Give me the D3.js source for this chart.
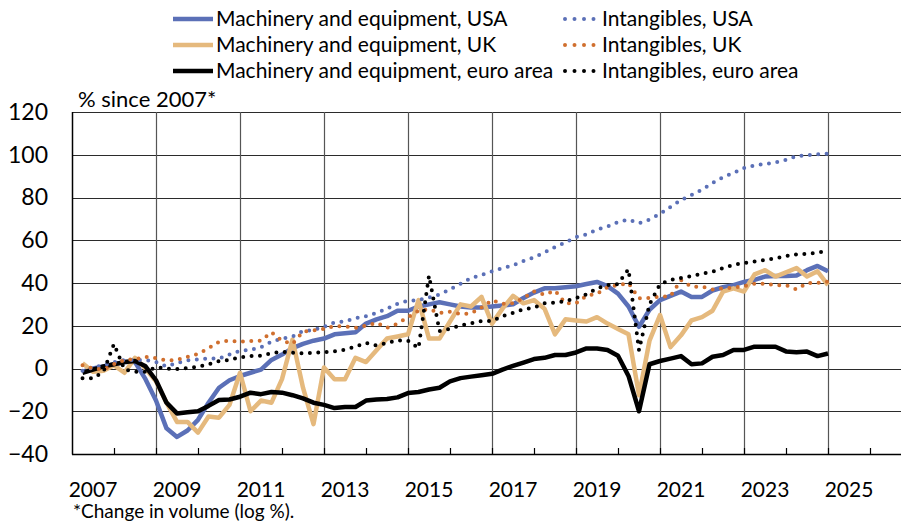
<!DOCTYPE html>
<html>
<head>
<meta charset="utf-8">
<script src="https://cdn.jsdelivr.net/npm/d3@7"></script>
<style>
    body { margin: 0; background: #fff; }
    svg { display: block; font-family: Lato, "Open Sans", sans-serif; }
</style>
</head>
<body>
<div id="chart"></div>
<script>
// quarterly observations 2007Q1 - 2024Q4, % since 2007 (log)
const years = d3.range(2007, 2025);
const quarters = years.flatMap(y => [1, 2, 3, 4].map(q => ({ year: y, q: q })));

const yTicks = [-40, -20, 0, 20, 40, 60, 80, 100, 120];
const xLabels = [2007, 2009, 2011, 2013, 2015, 2017, 2019, 2021, 2023, 2025];

const machineryUSA = [-1.5, 0, 1, 2, 3, 3, -5, -15, -28, -32, -29, -24, -16, -9, -5.5, -3.5, -2, -0.5, 4, 6.5,
    9.5, 11.5, 13, 14, 16, 16.5, 17, 21, 23, 24.5, 27, 27, 29, 30, 31, 30, 29, 28.5, 28.5, 29,
    29.5, 30, 33, 35.5, 37.5, 37.5, 38, 38.5, 39.5, 40.5, 38.5, 35, 29, 19.5, 27.5, 32, 34, 36, 33.5, 33.5,
    36.5, 38, 39, 40.5, 41.5, 43, 43.3, 43.3, 43.5, 46, 48, 45.5];
const machineryUK = [2.5, -1.5, -1, 1.5, -2, 5, 0, -6, -16, -25, -25, -30, -22.5, -23, -17, -2, -20, -15, -16, -5,
    13.5, -9, -26, 0.5, -5, -5, 5, 3, 8.5, 14, 15, 16, 32, 14, 14, 22, 30, 29, 33.5, 21,
    28, 34, 30.5, 32, 28, 16, 23, 22.5, 22, 24, 21, 18.5, 16, -12.5, 13, 25, 10, 15.5, 22.5, 24,
    27, 36, 37.5, 36, 44, 46, 43, 45, 47, 43, 45.5, 39];
const machineryEA = [-2, -0.5, 1, 2, 3, 3.5, 1, -5.5, -16, -21, -20.5, -20, -17.5, -14.7, -14.5, -13.2, -11.3, -12, -11, -11.3,
    -12.5, -14, -16, -17, -18.5, -18, -18, -15, -14.5, -14.3, -13.5, -11.5, -11, -9.8, -9, -6, -4.5, -3.8, -3.2, -2.5,
    -0.5, 1.2, 2.8, 4.4, 5, 6.3, 6.3, 7.5, 9.4, 9.4, 8.7, 6, -3.5, -20, 2, 3.5, 4.6, 5.8, 2, 2.4,
    5.5, 6.3, 8.7, 8.7, 10.2, 10.2, 10.2, 8, 7.6, 7.9, 5.8, 7];
const intangiblesUSA = [-1, 0.5, 1.5, 3, 4, 4, 4, 3, 1, 2.5, 3.8, 4.2, 4.8, 4.6, 6.5, 8.3, 8.7, 10, 12.5, 14,
    15, 17.5, 18, 19.5, 21.5, 22, 23.5, 24.5, 26, 28, 30.3, 31.7, 32, 33.2, 34.6, 37, 39.6, 42.3, 43.8, 45.5,
    47, 48.3, 50.3, 52, 54.3, 56.8, 59, 61.5, 62.7, 65, 66.4, 68.5, 69.7, 68, 69.7, 72.3, 75.6, 78.8, 81.2, 83.7,
    86.8, 89.5, 91.5, 93.8, 95, 95.7, 96.4, 97.6, 99.4, 99.8, 100.2, 100.5];
const intangiblesUK = [1.5, 0, -0.5, 2, 4, 4.3, 5.5, 4.8, 3.7, 4, 5.5, 6.8, 9.5, 12.5, 13, 12.5, 12.8, 13, 17, 13,
    11.5, 17.2, 17.8, 18.5, 19.8, 19.8, 19, 20, 21.4, 19, 21, 24, 27, 27.7, 26, 26.6, 25.5, 25.8, 28.5, 32,
    30.2, 30.5, 33, 36, 34.5, 36.5, 30.5, 30.5, 34, 35, 38, 39, 40, 32.8, 33, 33.6, 33.8, 41.4, 38.3, 38.3,
    37, 37.5, 37.8, 38.5, 39.7, 39.7, 39, 39, 37, 40, 40, 40.6];
const intangiblesEA = [-4.6, -4.6, -1.5, 11.5, -0.5, -1.5, -1.5, 0.6, 0, -0.3, 0.2, 0.8, 2, 3.5, 4, 5.2, 5.8, 6, 7.2, 7.9,
    7.4, 7.1, 7.3, 7.7, 8, 8.8, 10.2, 12, 10.8, 12, 13.2, 13, 9.5, 43.5, 17.5, 18.5, 20.2, 21.1, 22.2, 22.2,
    24.5, 26, 27.7, 28.5, 30.5, 30.8, 31.5, 33, 34.7, 37.5, 39, 39.5, 46.5, 8.5, 30, 39.5, 41.4, 42.4, 43.2, 44.4,
    45.3, 47, 48.5, 49.4, 50, 50.8, 51.6, 52.6, 53.4, 53.7, 54.2, 55];

const blue = '#5b70b7';
const tan = '#e5b97d';
const orange = '#d06f2e';

const series = [
    { name: 'Machinery and equipment, USA', values: machineryUSA, color: blue, dotted: false, col: 0, row: 0 },
    { name: 'Machinery and equipment, UK', values: machineryUK, color: tan, dotted: false, col: 0, row: 1 },
    { name: 'Machinery and equipment, euro area', values: machineryEA, color: '#000', dotted: false, col: 0, row: 2 },
    { name: 'Intangibles, USA', values: intangiblesUSA, color: blue, dotted: true, col: 1, row: 0 },
    { name: 'Intangibles, UK', values: intangiblesUK, color: orange, dotted: true, col: 1, row: 1 },
    { name: 'Intangibles, euro area', values: intangiblesEA, color: '#000', dotted: true, col: 1, row: 2 }
];

const width = 902, height = 523;
const plot = { left: 72, right: 901, top: 112, bottom: 454 };

const svg = d3.select('#chart').append('svg')
    .attr('width', width)
    .attr('height', height);

// one year = 42px, axis starts at the beginning of 2007
const x = d3.scaleLinear().domain([2007, 2027]).range([72, 912]);
const y = d3.scaleLinear().domain([-40, 120]).range([plot.bottom, plot.top]);

// horizontal gridlines
svg.append('g')
    .selectAll('line')
    .data(yTicks)
    .enter()
    .append('line')
    .attr('x1', plot.left)
    .attr('x2', plot.right)
    .attr('y1', d => Math.round(y(d)) + 0.5)
    .attr('y2', d => Math.round(y(d)) + 0.5)
    .attr('stroke', '#2b2b2b')
    .attr('stroke-width', 1.2);

// vertical gridlines every second year
svg.append('g')
    .selectAll('line')
    .data(d3.range(2009, 2027, 2))
    .enter()
    .append('line')
    .attr('x1', d => x(d) + 0.5)
    .attr('x2', d => x(d) + 0.5)
    .attr('y1', plot.top)
    .attr('y2', plot.bottom)
    .attr('stroke', '#555')
    .attr('stroke-width', 1.2);

// y axis labels
const yAxis = svg.append('g')
    .attr('transform', `translate(${plot.left},0)`)
    .call(d3.axisLeft(y).tickValues(yTicks).tickSize(0).tickPadding(24));
yAxis.select('.domain').remove();
yAxis.selectAll('text')
    .attr('font-size', 23)
    .attr('font-family', 'Lato, "Open Sans", sans-serif')
    .attr('fill', '#000');

// x axis: year ticks pointing up into the plot
const xAxis = svg.append('g')
    .attr('transform', `translate(0,${plot.bottom})`)
    .call(d3.axisBottom(x).tickValues(d3.range(2008, 2027)).tickSizeInner(-6).tickSizeOuter(0).tickFormat(''));
xAxis.select('.domain').remove();
xAxis.selectAll('line').attr('stroke', '#000').attr('stroke-width', 1.2);

// year labels centred in the middle of the year
svg.append('g')
    .selectAll('text')
    .data(xLabels)
    .enter()
    .append('text')
    .attr('x', d => x(d + 0.5))
    .attr('y', 497)
    .attr('text-anchor', 'middle')
    .attr('font-size', 21)
    .text(d => d);

// axis lines
svg.append('line')
    .attr('x1', plot.left + 0.5).attr('x2', plot.left + 0.5)
    .attr('y1', plot.top).attr('y2', plot.bottom + 0.5)
    .attr('stroke', '#000').attr('stroke-width', 1.5);
svg.append('line')
    .attr('x1', plot.left).attr('x2', plot.right)
    .attr('y1', Math.round(y(-40)) + 0.5).attr('y2', Math.round(y(-40)) + 0.5)
    .attr('stroke', '#000').attr('stroke-width', 1.5);

// series
const line = d3.line()
    .x((d, i) => x(quarters[i].year + quarters[i].q / 4))
    .y(d => y(d));

series.forEach(s => {
    const path = svg.append('path')
        .datum(s.values)
        .attr('d', line)
        .attr('fill', 'none')
        .attr('stroke', s.color)
        .attr('stroke-linejoin', 'round');
    if (s.dotted) {
        path.attr('stroke-width', 4)
            .attr('stroke-linecap', 'round')
            .attr('stroke-dasharray', '0,8.4');
    } else {
        path.attr('stroke-width', 4.5);
    }
});

// legend
const legend = svg.append('g');
const legendCols = [{ x1: 173, x2: 213, tx: 216 }, { x1: 565, x2: 594, tx: 602 }];
const legendRows = [19, 45, 71];

series.forEach(s => {
    const c = legendCols[s.col];
    const ry = legendRows[s.row];
    const sample = legend.append('line')
        .attr('x1', c.x1).attr('x2', c.x2)
        .attr('y1', ry).attr('y2', ry)
        .attr('stroke', s.color);
    if (s.dotted) {
        sample.attr('stroke-width', 4)
            .attr('stroke-linecap', 'round')
            .attr('stroke-dasharray', '0,9.5');
    } else {
        sample.attr('stroke-width', 4.5);
    }
    legend.append('text')
        .attr('x', c.tx)
        .attr('y', ry + 7)
        .attr('font-size', 21)
        .text(s.name);
});

svg.append('text')
    .attr('x', 78)
    .attr('y', 107)
    .attr('font-size', 22)
    .text('% since 2007*');

svg.append('text')
    .attr('x', 73)
    .attr('y', 518)
    .attr('font-size', 19)
    .text('*Change in volume (log %).');
</script>
</body>
</html>
